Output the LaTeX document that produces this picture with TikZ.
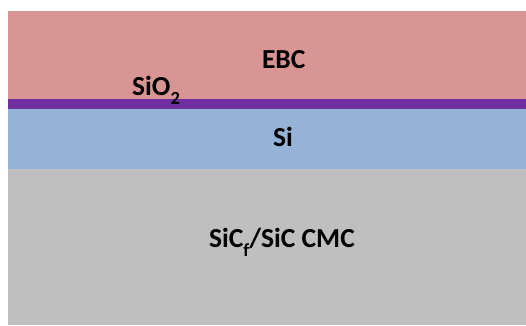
\documentclass[tikz,border=0pt]{standalone}
\usepackage{fontspec}
\setmainfont{Carlito}
\definecolor{ebccol}{HTML}{D99594}
\definecolor{oxcol}{HTML}{7030A0}
\definecolor{sicol}{HTML}{95B3D7}
\definecolor{cmccol}{HTML}{BFBFBF}
\newcommand{\lowsub}[1]{\raisebox{-0.33em}{\fontsize{18.5}{18.5}\selectfont #1}}
\tikzset{
  layerlabel/.style={font=\fontsize{27.5}{27.5}\selectfont\bfseries, inner sep=0pt, text=black}
}
\begin{document}
\begin{tikzpicture}[x=1pt,y=-1pt]
  \useasboundingbox (0,0) rectangle (526,325);
  \fill[white] (0,0) rectangle (526,325);
  % coating stack, top to bottom
  \fill[ebccol] (8,11) rectangle (526,98.5);
  \fill[oxcol] (8,98.5) rectangle (526,109);
  \fill[sicol] (8,109) rectangle (526,169);
  \fill[cmccol] (8,169) rectangle (526,325);
  % layer labels
  \node[layerlabel] (ebc) at (283.7,60) {EBC};
  \node[layerlabel, anchor=base west] (oxide) at (132,95) {SiO\lowsub{2}};
  \node[layerlabel] (si) at (283,137) {Si};
  \node[layerlabel] (cmc) at (282,242) {SiC\lowsub{f}/SiC CMC};
\end{tikzpicture}
\end{document}
